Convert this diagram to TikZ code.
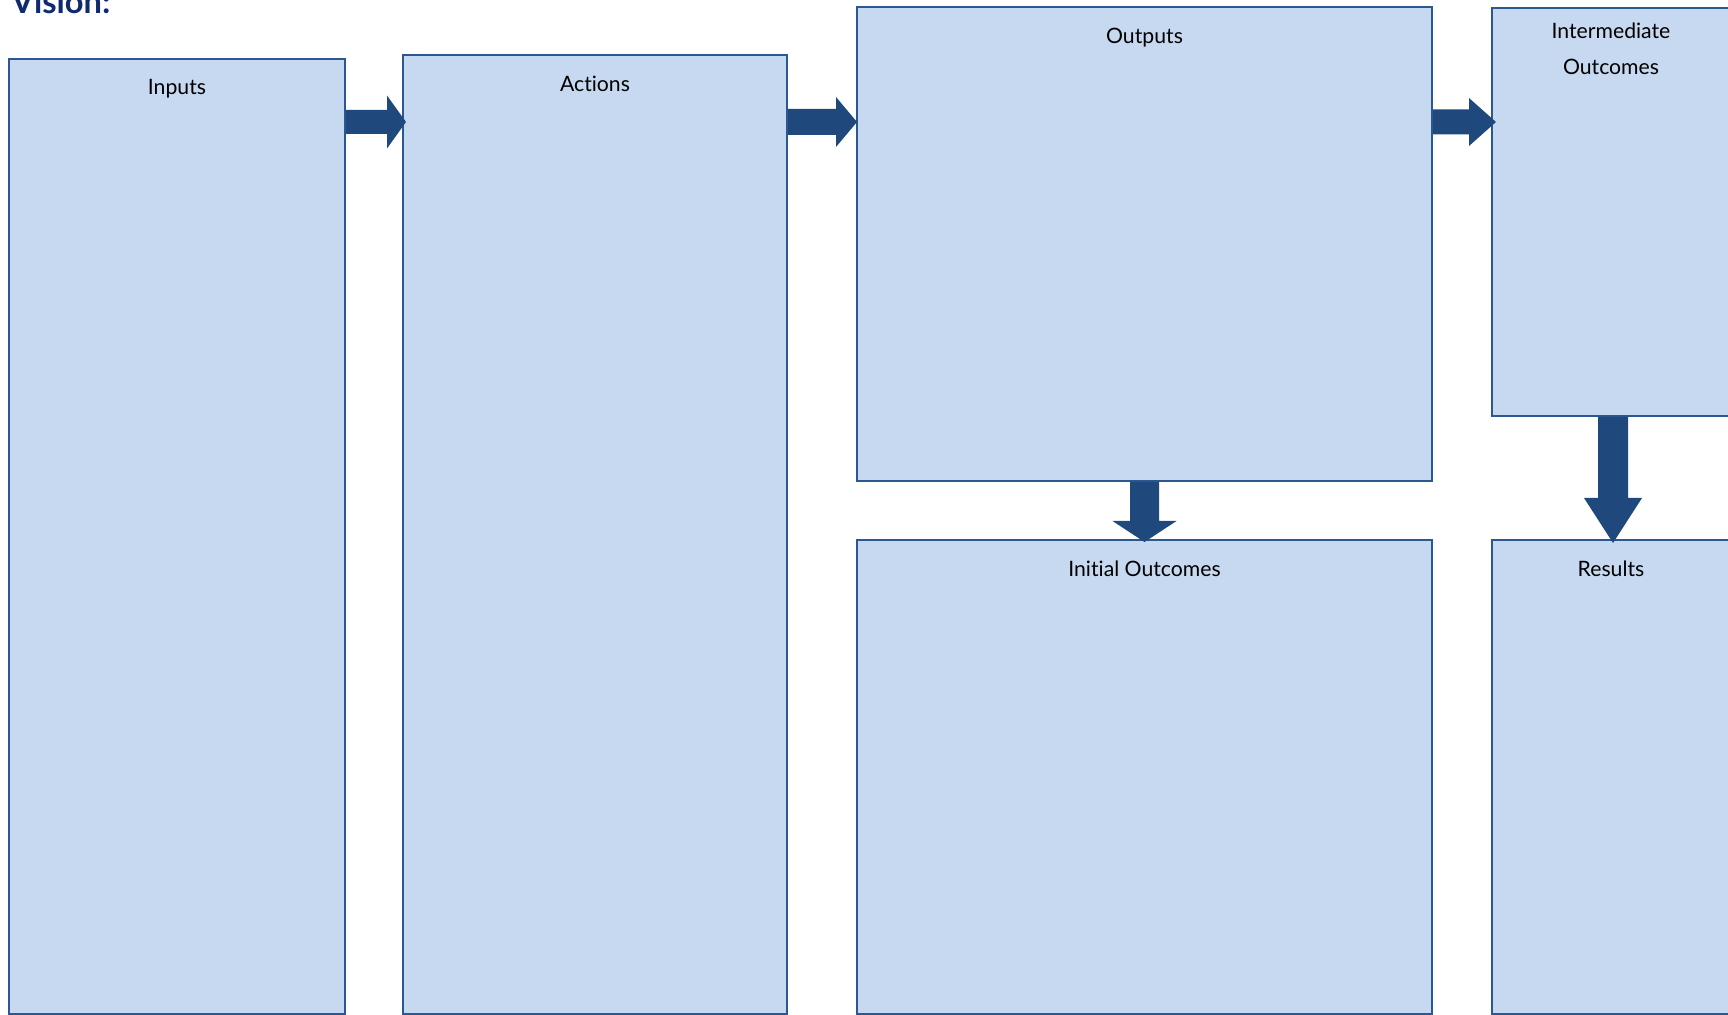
\documentclass[tikz,border=0pt]{standalone}
\usepackage{fontspec}
\setmainfont{Lato}[Ligatures={NoCommon}]
\usetikzlibrary{fit,calc}
\definecolor{boxfill}{HTML}{C6D9F0}
\definecolor{boxline}{HTML}{2B5891}
\definecolor{arrfill}{HTML}{1F487C}
\definecolor{visioncol}{HTML}{102A6E}
\begin{document}
\begin{tikzpicture}[x=0.5pt,y=-0.5pt,
  box/.style={draw=boxline, fill=boxfill, line width=1pt, inner sep=0pt},
  lbl/.style={anchor=base, inner sep=0pt, font=\fontsize{10.6}{18.25}\selectfont, align=center},
  arr/.style={fill=arrfill}]
\useasboundingbox (0,0) rectangle (1728,1015);
\clip (0,0) rectangle (1728,1015);
% title
\node[anchor=base west, inner sep=0pt, text=visioncol, font=\fontsize{16.3}{18}\selectfont\bfseries] (vision) at (11,14) {Vision:};
% boxes
\node[box, fit={(9,59) (345,1014)}] (inputs) {};
\node[box, fit={(403,55) (787,1014)}] (actions) {};
\node[box, fit={(857,7) (1432,481)}] (outputs) {};
\node[box, fit={(857,540) (1432,1014)}] (initial) {};
\node[box, fit={(1492,8) (1730,416)}] (inter) {};
\node[box, fit={(1492,540) (1730,1014)}] (results) {};
% labels
\node[lbl] (inputsL) at ($(inputs.north)+(0,37)$) {Inputs};
\node[lbl] (actionsL) at ($(actions.north)+(0,38)$) {Actions};
\node[lbl] (outputsL) at ($(outputs.north)+(0,38)$) {Outputs};
\node[lbl] (initialL) at ($(initial.north)+(0,37)$) {Initial Outcomes};
\node[lbl] (interL) at ($(inter.north)+(0,68)$) {Intermediate\\Outcomes};
\node[lbl] (resultsL) at ($(results.north)+(0,37)$) {Results};
% arrow 1
\coordinate (s1) at (inputs.east |- 0,122);
\coordinate (t1) at ($(actions.west |- 0,122)+(4,0)$);
\fill[arr] ($(s1)+(0,-12)$) -- ($(t1)+(-19,-12)$) -- ($(t1)+(-19,-26.5)$) -- (t1)
  -- ($(t1)+(-19,26.5)$) -- ($(t1)+(-19,12)$) -- ($(s1)+(0,12)$) -- cycle;
% arrow 2
\coordinate (s2) at (actions.east |- 0,122);
\coordinate (t2) at ($(outputs.west |- 0,122)+(1,0)$);
\fill[arr] ($(s2)+(0,-13)$) -- ($(t2)+(-21,-13)$) -- ($(t2)+(-21,-25)$) -- (t2)
  -- ($(t2)+(-21,25)$) -- ($(t2)+(-21,13)$) -- ($(s2)+(0,13)$) -- cycle;
% arrow 3
\coordinate (s3) at (outputs.east |- 0,122);
\coordinate (t3) at ($(inter.west |- 0,122)+(5,0)$);
\fill[arr] ($(s3)+(0,-12.5)$) -- ($(t3)+(-27,-12.5)$) -- ($(t3)+(-27,-24)$) -- (t3)
  -- ($(t3)+(-27,24)$) -- ($(t3)+(-27,12.5)$) -- ($(s3)+(0,12.5)$) -- cycle;
% arrow 4
\coordinate (s4) at (outputs.south);
\coordinate (t4) at ($(initial.north)+(0,3)$);
\fill[arr] ($(s4)+(-14.5,0)$) -- ($(t4)+(-14.5,-21)$) -- ($(t4)+(-32,-21)$) -- (t4)
  -- ($(t4)+(32,-21)$) -- ($(t4)+(14.5,-21)$) -- ($(s4)+(14.5,0)$) -- cycle;
% arrow 5
\coordinate (s5) at ($(inter.south)+(2,0)$);
\coordinate (t5) at ($(results.north)+(2,4)$);
\fill[arr] ($(s5)+(-15,0)$) -- ($(t5)+(-15,-45)$) -- ($(t5)+(-29,-45)$) -- (t5)
  -- ($(t5)+(29,-45)$) -- ($(t5)+(15,-45)$) -- ($(s5)+(15,0)$) -- cycle;
\end{tikzpicture}
\end{document}
